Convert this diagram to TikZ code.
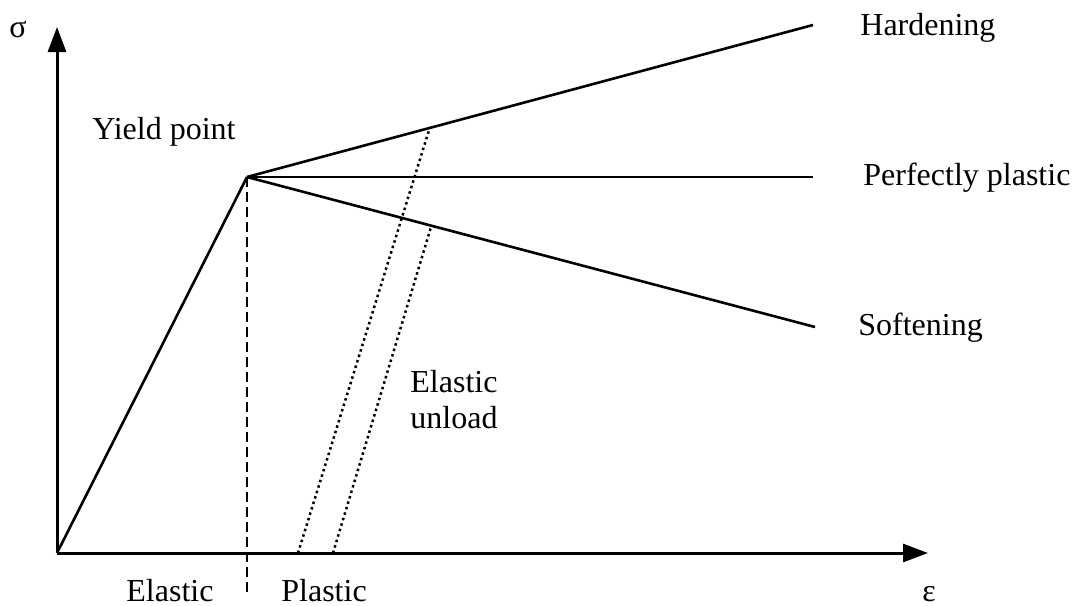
\documentclass[tikz,border=0pt]{standalone}
\usepackage{fontspec}
\setmainfont{Liberation Serif}
\usetikzlibrary{arrows.meta}

\tikzset{
	axis/.style={line width=1.5pt, -{Triangle[length=12.5pt,width=9pt]}},
	curve/.style={line width=1.3pt},
	unload/.style={line width=1.25pt, dash pattern=on 1.25pt off 1.6pt},
	label/.style={font=\fontsize{16}{18}\selectfont, inner sep=0pt},
}

\begin{document}
\begin{tikzpicture}[x=0.5pt,y=-0.5pt]

	\useasboundingbox (0,0) rectangle (1073,606);

	% points on the curves
	\coordinate (O) at (57,553);
	\coordinate (Y) at (247,177);
	\coordinate (ytop) at (57,27);
	\coordinate (xend) at (928,553);
	\coordinate (H) at (813,25);
	\coordinate (P) at (813,177);
	\coordinate (S) at (815,327);
	\coordinate (ybot) at (247,593);

	% axes
	\draw[axis] (O) -- (ytop);
	\draw[axis] (O) -- (xend);

	% elastic part and the three branches
	\draw[curve] (O) -- (Y);
	\draw[curve] (Y) -- (H);
	\draw[curve] (Y) -- (P);
	\draw[curve] (Y) -- (S);
	\draw[line width=1.1pt, dash pattern=on 5pt off 2.5pt] (Y) -- (ybot);

	% elastic unloading
	\coordinate (u1a) at (298,553);
	\coordinate (u1b) at (430,127);
	\coordinate (u2a) at (333,553);
	\coordinate (u2b) at (431,227);
	\draw[unload] (u1a) -- (u1b);
	\draw[unload] (u2a) -- (u2b);

	% labels
	\node[label, anchor=base] (sigma) at (18,37) {σ};
	\node[label, anchor=base] (eps) at (929,601) {ε};
	\node[label, anchor=base west] (hard) at (860,35) {Hardening};
	\node[label, anchor=base west] (perf) at (863,185) {Perfectly plastic};
	\node[label, anchor=base west] (soft) at (858,335) {Softening};
	\node[label, anchor=base east] (yield) at (236,139) {Yield point};
	\node[label, align=left, anchor=west] (unl) at (410,400) {Elastic\\unload};
	\node[label, anchor=base west] (ela) at (126,601) {Elastic};
	\node[label, anchor=base west] (pla) at (281,601) {Plastic};

\end{tikzpicture}
\end{document}
